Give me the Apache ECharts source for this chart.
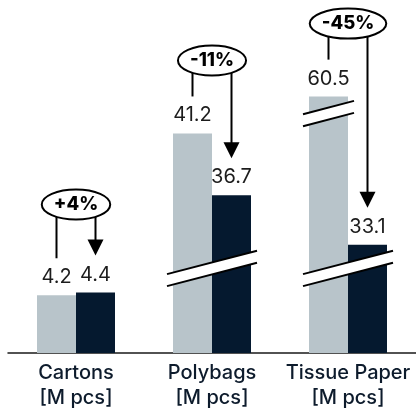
<!DOCTYPE html>
<html>
<head>
<meta charset="utf-8">
<style>
  html, body { margin: 0; padding: 0; background: #ffffff; }
  #chart { width: 416px; height: 412px; }
</style>
<script src="https://cdn.jsdelivr.net/npm/echarts@6/dist/echarts.min.js"></script>
</head>
<body>
<div id="chart"></div>
<script>
// ---- data ----
const categories = ['Cartons\n[M pcs]', 'Polybags\n[M pcs]', 'Tissue Paper\n[M pcs]'];
const beforeValues = [4.2, 41.2, 60.5];
const afterValues = [4.4, 36.7, 33.1];
const changeLabels = ['+4%', '-11%', '-45%'];
// axis breaks (value ranges collapsed on the y axis)
const breakStarts = [6, 42.5];
const breakEnds = [31.53, 59.42];

// ---- style constants ----
const FONT = 'Inter, "Noto Sans", sans-serif';
const LIGHT = '#b8c4ca';
const DARK = '#05192f';
const BAR_W = 39;
const SLOPE = 0.26;

const chart = echarts.init(document.getElementById('chart'), null, { renderer: 'canvas' });

const measureCtx = document.createElement('canvas').getContext('2d');
function textWidth(t, font) { measureCtx.font = font; return measureCtx.measureText(t).width; }
const ANN_FONT = '800 18.5px ' + FONT;

function renderBreaks(params, api) {
  const i = api.value(0);
  const cx = api.coord([i, 0])[0];
  const children = [];
  for (let k = 0; k < breakStarts.length; k++) {
    const over1 = beforeValues[i] > breakEnds[k];
    const over2 = afterValues[i] > breakEnds[k];
    if (!over1 && !over2) continue;
    let x0 = over1 ? cx - BAR_W : cx;
    let x1 = over2 ? cx + BAR_W : cx;
    x0 -= 6; x1 += 6;
    const yc = (api.coord([i, breakStarts[k]])[1] + api.coord([i, breakEnds[k]])[1]) / 2;
    const mid = (x0 + x1) / 2;
    const yAt = x => yc - SLOPE * (x - mid);
    children.push({
      type: 'polygon',
      shape: { points: [[x0, yAt(x0) - 6], [x1, yAt(x1) - 6], [x1, yAt(x1) + 6], [x0, yAt(x0) + 6]] },
      style: { fill: '#ffffff' }
    });
    children.push({
      type: 'line',
      shape: { x1: x0, y1: yAt(x0) - 6, x2: x1, y2: yAt(x1) - 6 },
      style: { stroke: '#000000', lineWidth: 2 }
    });
    children.push({
      type: 'line',
      shape: { x1: x0, y1: yAt(x0) + 6, x2: x1, y2: yAt(x1) + 6 },
      style: { stroke: '#000000', lineWidth: 2 }
    });
  }
  return { type: 'group', children: children };
}

function renderAnnotations(params, api) {
  const i = api.value(0);
  const pLight = api.coord([i, beforeValues[i]]);
  const pDark = api.coord([i, afterValues[i]]);
  const cx = pLight[0];
  const lx = cx - BAR_W / 2, dx = cx + BAR_W / 2;
  const lEnd = pLight[1] - 37, dEnd = pDark[1] - 37;
  const bottom = Math.min(Math.min(lEnd, dEnd) - 21, dEnd - 36);
  const text = changeLabels[i];
  const rx = textWidth(text, ANN_FONT) / 2 + 12;
  const ry = 15;
  const cy = bottom - ry;
  return {
    type: 'group',
    children: [
      { type: 'line', shape: { x1: lx, y1: cy, x2: lx, y2: lEnd }, style: { stroke: '#000', lineWidth: 2 } },
      { type: 'line', shape: { x1: dx, y1: cy, x2: dx, y2: dEnd - 14 }, style: { stroke: '#000', lineWidth: 2 } },
      { type: 'polygon', shape: { points: [[dx - 8, dEnd - 16], [dx + 8, dEnd - 16], [dx, dEnd]] }, style: { fill: '#000' } },
      { type: 'ellipse', shape: { cx: cx, cy: cy, rx: rx, ry: ry }, style: { fill: '#fff', stroke: '#000', lineWidth: 2 } },
      { type: 'text', x: cx, y: cy, style: { text: text, font: ANN_FONT, fill: '#000', align: 'center', verticalAlign: 'middle' } }
    ]
  };
}

const catIdx = categories.map((c, i) => i);

chart.setOption({
  animation: false,
  backgroundColor: '#ffffff',
  grid: { left: 8, right: -3, top: 76, bottom: 59, containLabel: false },
  xAxis: {
    type: 'category',
    data: categories,
    axisTick: { show: false },
    axisLine: { lineStyle: { color: '#1a1a1a', width: 1.5 } },
    axisLabel: { fontFamily: FONT, fontSize: 20, fontWeight: 500, color: '#0d1b2c', lineHeight: 25, margin: 7, interval: 0 }
  },
  yAxis: {
    type: 'value',
    min: 0,
    max: 62,
    axisLine: { show: false },
    axisTick: { show: false },
    axisLabel: { show: false },
    splitLine: { show: false },
    breaks: breakStarts.map((s, k) => ({ start: s, end: breakEnds[k], gap: 0.3 })),
    breakArea: { show: false, itemStyle: { opacity: 0 } }
  },
  series: [
    {
      type: 'bar', data: beforeValues, barWidth: BAR_W, barGap: '0%',
      itemStyle: { color: LIGHT },
      label: { show: true, position: 'top', distance: 8, fontFamily: FONT, fontSize: 20, fontWeight: 400, color: '#1c1c1c' },
      z: 2
    },
    {
      type: 'bar', data: afterValues, barWidth: BAR_W, barGap: '0%',
      itemStyle: { color: DARK },
      label: { show: true, position: 'top', distance: 8, fontFamily: FONT, fontSize: 20, fontWeight: 400, color: '#1c1c1c' },
      z: 2
    },
    { type: 'custom', data: catIdx, renderItem: renderBreaks, clip: false, z: 5, silent: true },
    { type: 'custom', data: catIdx, renderItem: renderAnnotations, clip: false, z: 6, silent: true }
  ]
});
</script>
</body>
</html>
